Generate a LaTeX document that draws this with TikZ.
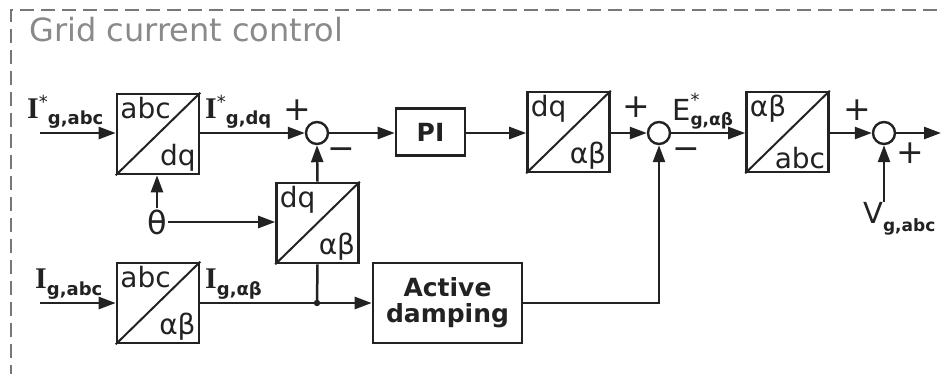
\documentclass[tikz,border=0pt]{standalone}
\usepackage{fontspec}
\setmainfont{DejaVu Sans}
\newfontfamily\serifb{Liberation Serif}
\usetikzlibrary{arrows.meta}
\definecolor{ink}{HTML}{222222}
\definecolor{titlegray}{HTML}{8A8A8A}
\definecolor{bordergray}{HTML}{777777}
\newcommand\fs[1]{\fontsize{#1}{#1}\selectfont}
\newcommand\convblock[4]{%
  \node[conv] (#1) at (#2) {};
  \draw[ink, line width=2pt] (#1.south west) -- (#1.north east);
  \node[blk, anchor=north west] (#1t) at (#1.north west) {#3};
  \node[blk, anchor=south east] (#1b) at (#1.south east) {#4};
}
\begin{document}
\begin{tikzpicture}[x=1pt,y=-1pt,
  conv/.style={draw=ink, line width=2.6pt, minimum width=82pt, minimum height=80pt, inner sep=0pt},
  blk/.style={inner xsep=4.5pt, inner ysep=4pt, font=\fs{28}, text=ink},
  plainbox/.style={draw=ink, line width=2.6pt, inner sep=0pt, align=center, font=\bfseries\fs{25}, text=ink},
  sumc/.style={draw=ink, circle, minimum size=22pt, inner sep=0pt, line width=2.4pt},
  arr/.style={draw=ink, line width=2.5pt, -{Triangle[length=17pt,width=12pt]}},
  wire/.style={draw=ink, line width=2.5pt},
  sign/.style={font=\fs{33}, text=ink, inner sep=0pt},
  sig/.style={text=ink, inner sep=0pt, anchor=base west}]
\clip (0,0) rectangle (944,373);
\draw[bordergray, line width=1.6pt, dash pattern=on 14pt off 7pt] (11,400) -- (11,10) -- (960,10);
\node[anchor=base west, inner sep=0pt, text=titlegray, font=\fs{32}] (title) at (29,41) {Grid current control};

% top row
\convblock{b1}{158,134}{abc}{dq}
\node[sumc] (s1) at (317,133) {};
\node[plainbox, minimum width=69pt, minimum height=47pt] (pi) at (430.5,132) {PI};
\convblock{b3}{568.5,132}{dq}{αβ}
\node[sumc] (s2) at (659,133) {};
\convblock{b4}{787.5,132}{αβ}{abc}
\node[sumc] (s3) at (884,133) {};
\coordinate (out) at (941,133);
\coordinate (inA) at (40,133);

% middle
\convblock{bm}{317.5,223}{dq}{αβ}
\node[text=ink, font=\fs{32}, inner sep=1pt] (theta) at (157,222) {θ};

% bottom row
\convblock{b2}{158,303}{abc}{αβ}
\node[plainbox, minimum width=149pt, minimum height=80pt] (ad) at (447.5,303) {Active\\[1pt]damping};
\coordinate (inB) at (40,303);
\coordinate (junc) at (317,303);
\node[text=ink, font=\fs{29}, inner sep=0pt, anchor=north west] (V) at (863,202) {V\raisebox{-8pt}{\bfseries\fs{17}g,abc}};

% connectors
\draw[arr] (inA) -- (b1.west |- inA);
\draw[arr] (b1.east |- s1) -- (s1.west);
\draw[arr] (s1.east) -- (pi.west |- s1);
\draw[arr] (pi.east |- s1) -- (b3.west |- s1);
\draw[arr] (b3.east |- s2) -- (s2.west);
\draw[arr] (s2.east) -- (b4.west |- s2);
\draw[arr] (b4.east |- s3) -- (s3.west);
\draw[arr] (s3.east) -- (out);
\draw[arr] (theta.north) -- (theta.north |- b1.south);
\draw[arr] (theta.east) -- (bm.west |- theta.east);
\draw[arr] (bm.north) -- (s1.south);
\draw[arr] (inB) -- (b2.west |- inB);
\draw[arr] (b2.east |- junc) -- (ad.west |- junc);
\draw[wire] (junc) -- (bm.south);
\fill[ink] (junc) circle (3.2pt);
\draw[arr] (ad.east |- junc) -| (s2.south);
\draw[arr] (s3 |- V.north) -- (s3.south);

% signal labels
\node[sig] (lIa) at (27,118) {{\serifb\bfseries\fs{30}I}\raisebox{10pt}{\fs{18}*}\raisebox{-6pt}{\bfseries\fs{18}g,abc}};
\node[sig] (lIdq) at (205,118) {{\serifb\bfseries\fs{30}I}\raisebox{10pt}{\fs{18}*}\raisebox{-6pt}{\bfseries\fs{18}g,dq}};
\node[sig] (lIb) at (35,288) {{\serifb\bfseries\fs{30}I}\raisebox{-7pt}{\bfseries\fs{18}g,abc}};
\node[sig] (lIab) at (205,288) {{\serifb\bfseries\fs{30}I}\raisebox{-7pt}{\bfseries\fs{18}g,αβ}};
\node[sig] (lE) at (672,120) {{\fs{29}E}\rlap{\raisebox{14pt}{\fs{18}*}}\raisebox{-5pt}{\bfseries\fs{17}g,αβ}};

\node[sign] (p1) at (297,110) {+};
\node[sign] (m1) at (341,154) {−};
\node[sign] (p2) at (636,107) {+};
\node[sign] (m2) at (686,154) {−};
\node[sign] (p3) at (857,110) {+};
\node[sign] (p4) at (910,153) {+};
\end{tikzpicture}
\end{document}
